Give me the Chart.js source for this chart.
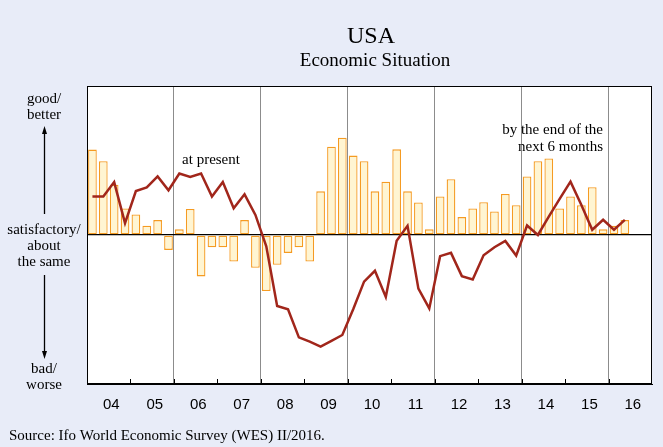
<!DOCTYPE html>
<html>
<head>
<meta charset="utf-8">
<script src="https://cdn.jsdelivr.net/npm/chart.js@4.4.1/dist/chart.umd.min.js"></script>
<style>
html,body{margin:0;padding:0;background:#E8ECF8;}
#wrap{position:relative;width:663px;height:447px;}
</style>
</head>
<body>
<div id="wrap"><canvas id="myChart"></canvas></div>
<script>
// quarters 2004Q1 .. 2016Q4
var years=["04","05","06","07","08","09","10","11","12","13","14","15","16"];
var quarters=[];
years.forEach(function(y){for(var q=1;q<=4;q++){quarters.push(y+"Q"+q);}});

// economic situation at present (line)
var present=[25.8,25.8,35.5,8, 29.5,32,39.3,30, 41.3,39,41.3,25.8, 35.5,18,27.3,13.5,
 -7.6,-47.6,-49.8,-68.7, -71.6,-74.9,-71.1,-67.1, -49.8,-31.3,-24,-41.6, -3.8,6.2,-36,-49.3,
 -14.2,-12,-27.6,-29.8, -13.6,-8.2,-4,-13.8, 6.4,0,12.4,24.2, 35.8,20.2,3.5,10.2, 3.5,10.2];

// expectations by the end of the next 6 months (bars)
var expected=[57.3,49.5,33.8,17.8, 13.8,6.2,10,-10, 3.8,17.5,-27.8,-8.2, -8.2,-17.8,10,-22,
 -37.6,-20,-12,-8.2, -17.8,29.3,59.3,65.3, 53.3,49.5,29.3,35.8, 57.5,29.3,21.8,3.8,
 25.8,37.5,12,17.8, 22,15.8,27.5,20, 39.3,49.5,51.3,17.8, 25.8,20,32,3.8, 6.2,10];

var serif="'Liberation Serif','Times New Roman',serif";

var decor={
 id:'decor',
 beforeDraw:function(c){
  var ctx=c.ctx,a=c.chartArea;
  ctx.save();
  ctx.fillStyle='#fff';
  ctx.fillRect(a.left,a.top,a.right-a.left,a.bottom-a.top);
  ctx.restore();
 },
 afterDraw:function(c){
  var ctx=c.ctx,a=c.chartArea,x=c.scales.x;
  ctx.save();
  // year tick marks inside the plot
  ctx.strokeStyle='#000';ctx.lineWidth=1;
  for(var k=1;k<years.length;k++){
   var px=Math.round((x.getPixelForValue(4*k-1)+x.getPixelForValue(4*k))/2)+0.5;
   ctx.beginPath();ctx.moveTo(px,a.bottom);ctx.lineTo(px,a.bottom-5);ctx.stroke();
  }
  ctx.strokeRect(a.left+0.5,a.top+0.5,a.right-a.left-1,a.bottom-a.top-1);
  // titles
  ctx.fillStyle='#000';ctx.textAlign='center';ctx.textBaseline='middle';
  ctx.font='24px '+serif;ctx.fillText('USA',371,37);
  ctx.font='19px '+serif;ctx.fillText('Economic Situation',375,61);
  // side labels
  ctx.font='15px '+serif;
  ctx.fillText('good/',44,99);ctx.fillText('better',44,115);
  ctx.fillText('satisfactory/',44,230);ctx.fillText('about',44,246);ctx.fillText('the same',44,262);
  ctx.fillText('bad/',44,369);ctx.fillText('worse',44,385);
  // arrows
  ctx.lineWidth=1.3;
  ctx.beginPath();ctx.moveTo(44.5,214);ctx.lineTo(44.5,130);ctx.stroke();
  ctx.beginPath();ctx.moveTo(44.5,126);ctx.lineTo(42,134);ctx.lineTo(47,134);ctx.closePath();ctx.fill();
  ctx.beginPath();ctx.moveTo(44.5,275);ctx.lineTo(44.5,354);ctx.stroke();
  ctx.beginPath();ctx.moveTo(44.5,359);ctx.lineTo(42,351);ctx.lineTo(47,351);ctx.closePath();ctx.fill();
  // series labels
  ctx.font='15px '+serif;
  ctx.fillText('at present',211,160);
  ctx.textAlign='right';
  ctx.fillText('by the end of the',603,130);
  ctx.fillText('next 6 months',603,147);
  // source
  ctx.textAlign='left';ctx.font='15px '+serif;
  ctx.fillText('Source: Ifo World Economic Survey (WES) II/2016.',9,436);
  ctx.restore();
 }
};

var myChart=document.getElementById("myChart").getContext('2d');
var chart=new Chart(myChart,{
 type:'bar',
 data:{
  labels:quarters,
  datasets:[{
   type:'line',
   label:'at present',
   data:present,
   borderColor:'#A1261B',
   borderWidth:2.5,
   pointRadius:0,
   tension:0,
   order:0
  },{
   type:'bar',
   label:'by the end of the next 6 months',
   data:expected,
   backgroundColor:'#FFF5D2',
   borderColor:'#F59B22',
   borderWidth:1.3,
   borderSkipped:false,
   categoryPercentage:1,
   barPercentage:0.8,
   order:1
  }]
 },
 options:{
  responsive:true,
  maintainAspectRatio:false,
  animation:false,
  layout:{padding:{left:87,top:86,right:11,bottom:21}},
  plugins:{legend:{display:false},tooltip:{enabled:false}},
  scales:{
   x:{
    grid:{
     offset:true,
     drawTicks:false,
     color:function(ctx){return (ctx.index>0&&ctx.index%8===0)?'#8c8c8c':'rgba(0,0,0,0)';},
     lineWidth:1
    },
    border:{display:true,color:'#000'},
    ticks:{
     autoSkip:false,maxRotation:0,padding:12,
     color:'#000',font:{family:"'Liberation Sans',Arial,sans-serif",size:15},
     labelOffset:8,
     callback:function(v,i){return i%4===1?years[Math.floor(i/4)]:'';}
    }
   },
   y:{
    min:-100,max:100,
    ticks:{display:false,stepSize:50},
    grid:{
     drawTicks:false,
     color:function(ctx){return ctx.tick.value===0?'#000':'rgba(0,0,0,0)';},
     lineWidth:1.3
    },
    border:{display:true,color:'#000'}
   }
  }
 },
 plugins:[decor]
});
</script>
</body>
</html>
